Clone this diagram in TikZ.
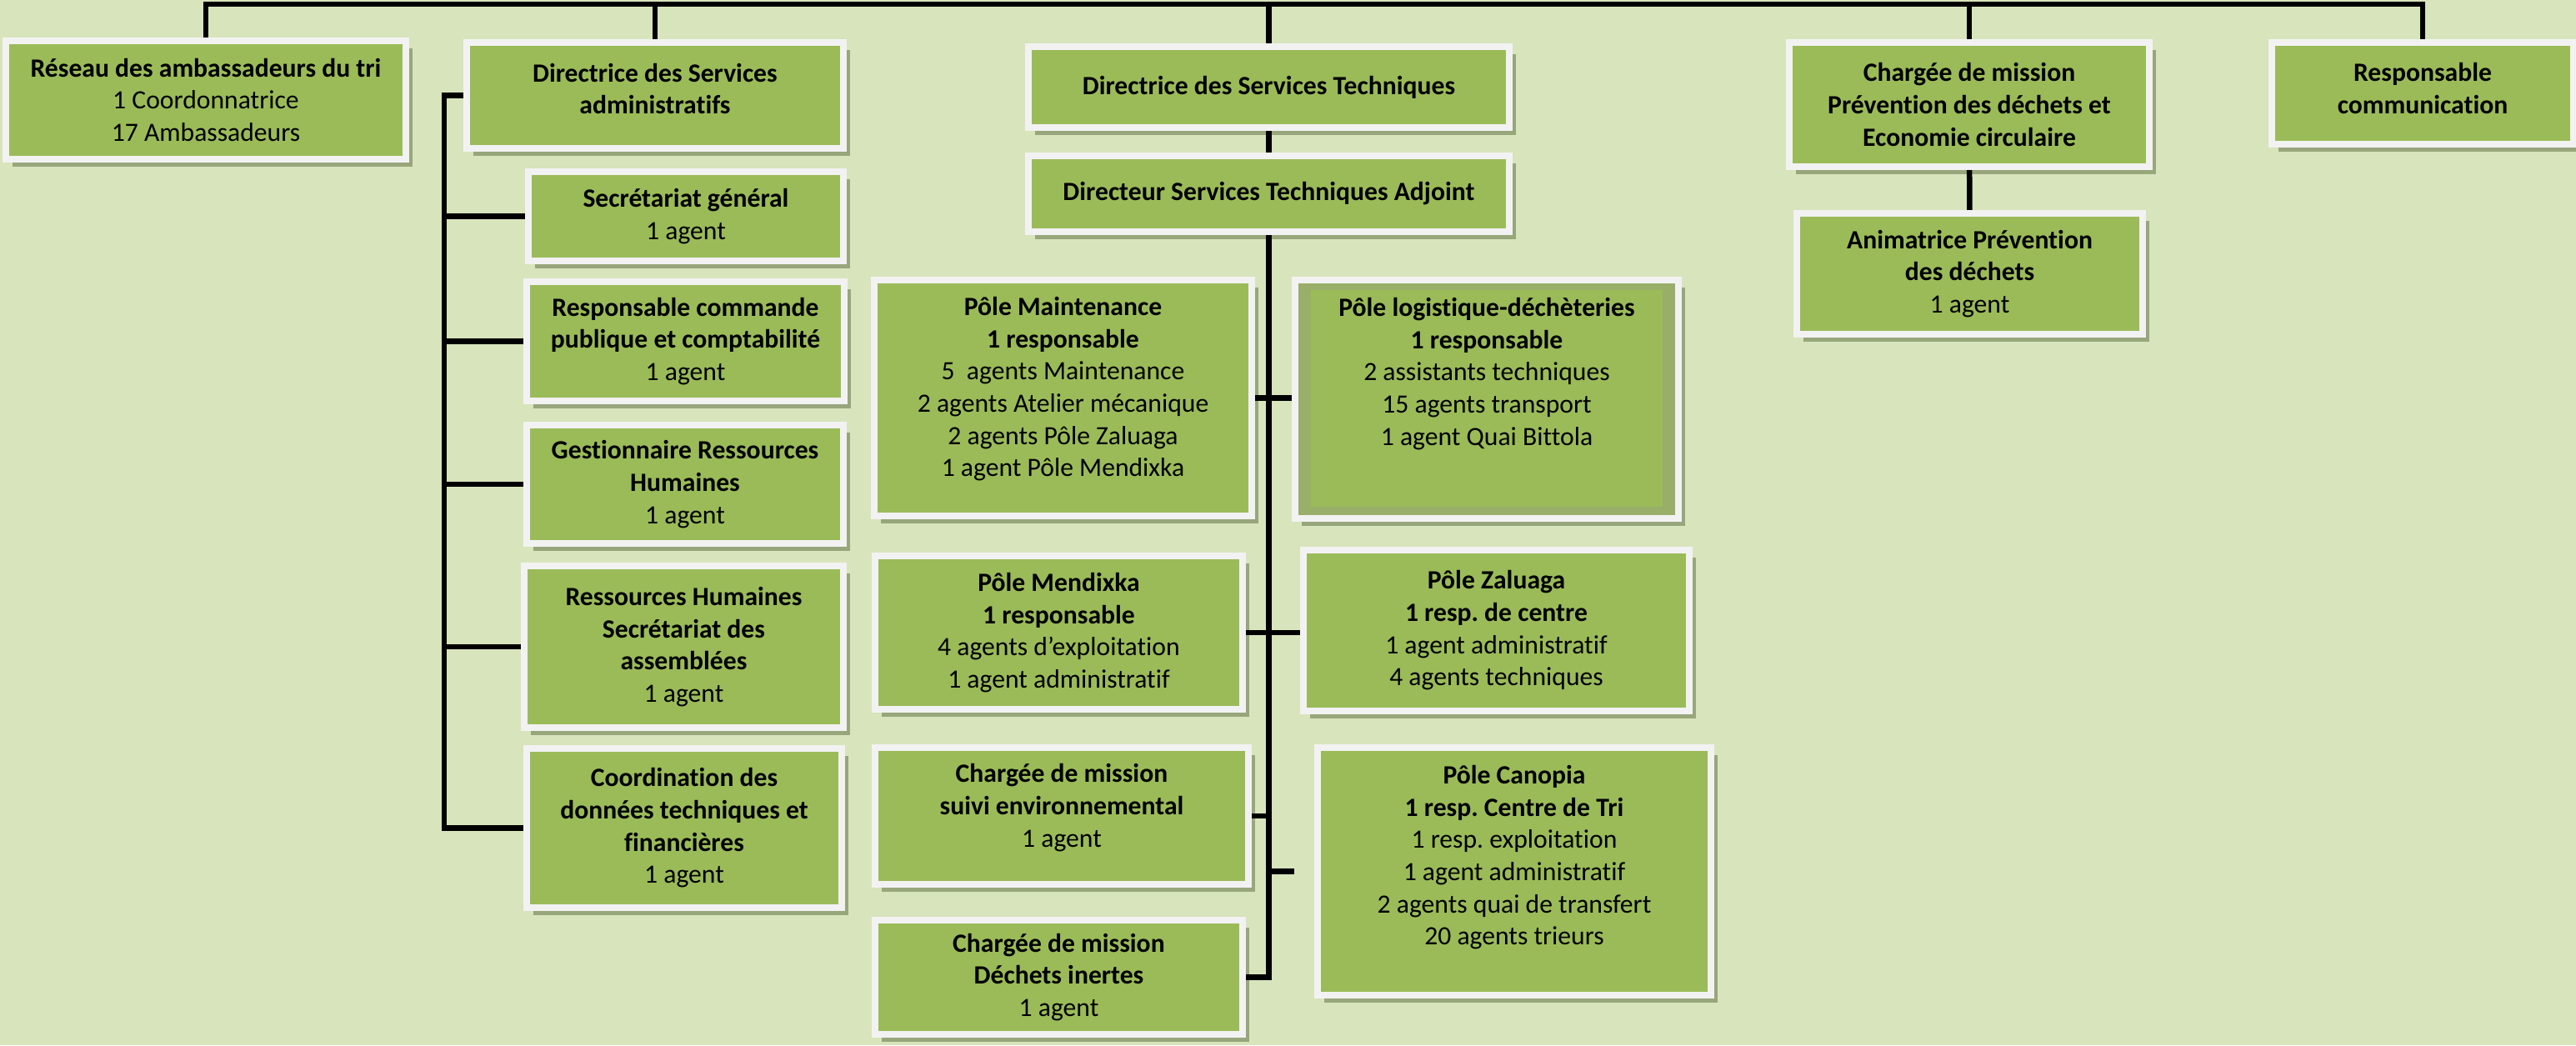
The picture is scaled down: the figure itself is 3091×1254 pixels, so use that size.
\documentclass[tikz,border=0pt]{standalone}
\usepackage{fontspec}
\setmainfont{Carlito}[Ligatures=NoCommon]
\usetikzlibrary{shadows}
\definecolor{bgcol}{HTML}{D8E4BC}
\definecolor{boxgreen}{HTML}{9BBB59}
\definecolor{boxedge}{HTML}{F2F2F2}
\definecolor{shadowcol}{HTML}{98A67B}
\definecolor{bandcol}{HTML}{98AE69}
\frenchspacing
\begin{document}
\begin{tikzpicture}[x=0.01cm, y=-0.01cm,
  box/.style={draw=boxedge, line width=0.08cm, fill=boxgreen, align=center,
    font=\fontsize{9}{11}\selectfont, inner sep=0pt,
    drop shadow={shadow xshift=0.08cm, shadow yshift=-0.09cm, fill=shadowcol, opacity=1}},
  lift/.style={text depth=#1},
  link/.style={line width=0.065cm}]
\useasboundingbox [fill=bgcol] (0,0) rectangle (3091,1254);

% top row
\node [box, minimum width=4.80cm, minimum height=1.42cm] (reseau) at (247,120)
  {\textbf{Réseau des ambassadeurs du tri}\\1 Coordonnatrice\\17 Ambassadeurs};
\node [box, lift=4.6pt, minimum width=4.52cm, minimum height=1.27cm] (dsa) at (786,114.5)
  {\textbf{Directrice des Services}\\\textbf{administratifs}};
\node [box, minimum width=5.77cm, minimum height=0.97cm] (dst) at (1522.5,104.5)
  {\textbf{Directrice des Services Techniques}};
\node [box, minimum width=5.77cm, minimum height=0.91cm] (adj) at (1522.5,232.5)
  {\textbf{Directeur Services Techniques Adjoint}};
\node [box, minimum width=4.32cm, minimum height=1.49cm] (cmp) at (2363,125.5)
  {\textbf{Chargée de mission}\\\textbf{Prévention des déchets et}\\\textbf{Economie circulaire}};
\node [box, lift=3.4pt, minimum width=3.62cm, minimum height=1.22cm] (com) at (2907,112)
  {\textbf{Responsable}\\\textbf{communication}};
\node [box, minimum width=4.15cm, minimum height=1.45cm] (anim) at (2363.5,328.5)
  {\textbf{Animatrice Prévention}\\\textbf{des déchets}\\1 agent};

% services administratifs
\node [box, minimum width=3.78cm, minimum height=1.07cm] (sg) at (823,259.5)
  {\textbf{Secrétariat général}\\1 agent};
\node [box, minimum width=3.81cm, minimum height=1.43cm] (rc) at (822.5,409.5)
  {\textbf{Responsable commande}\\\textbf{publique et comptabilité}\\1 agent};
\node [box, minimum width=3.80cm, minimum height=1.42cm] (grh) at (822,581)
  {\textbf{Gestionnaire Ressources}\\\textbf{Humaines}\\1 agent};
\node [box, minimum width=3.83cm, minimum height=1.94cm] (rhs) at (820.5,776)
  {\textbf{Ressources Humaines}\\\textbf{Secrétariat des}\\\textbf{assemblées}\\1 agent};
\node [box, minimum width=3.78cm, minimum height=1.91cm] (coord) at (821,993.5)
  {\textbf{Coordination des}\\\textbf{données techniques et}\\\textbf{financières}\\1 agent};

% services techniques
\node [box, lift=7.7pt, minimum width=4.53cm, minimum height=2.83cm] (maint) at (1275.5,477.5)
  {\textbf{Pôle Maintenance}\\\textbf{1 responsable}\\5~ agents Maintenance\\2 agents Atelier mécanique\\2 agents Pôle Zaluaga\\1 agent Pôle Mendixka};
\node [box, lift=19pt, fill=bandcol, minimum width=4.60cm, minimum height=2.86cm,
  path picture={\fill [boxgreen] ([shift={(19,12)}]path picture bounding box.north west)
    rectangle ([shift={(-19,-14)}]path picture bounding box.south east);}] (logi) at (1784,479)
  {\textbf{Pôle logistique-déchèteries}\\\textbf{1 responsable}\\2 assistants techniques\\15 agents transport\\1 agent Quai Bittola};
\node [box, minimum width=4.41cm, minimum height=1.84cm] (mend) at (1270.5,759)
  {\textbf{Pôle Mendixka}\\\textbf{1 responsable}\\4 agents d’exploitation\\1 agent administratif};
\node [box, minimum width=4.63cm, minimum height=1.93cm] (zal) at (1795.5,756.5)
  {\textbf{Pôle Zaluaga}\\\textbf{1 resp. de centre}\\1 agent administratif\\4 agents techniques};
\node [box, lift=7.1pt, minimum width=4.48cm, minimum height=1.64cm] (suivi) at (1274,979)
  {\textbf{Chargée de mission}\\\textbf{suivi environnemental}\\1 agent};
\node [box, lift=11pt, minimum width=4.72cm, minimum height=2.97cm] (cano) at (1817,1045.5)
  {\textbf{Pôle Canopia}\\\textbf{1 resp. Centre de Tri}\\1 resp. exploitation\\1 agent administratif\\2 agents quai de transfert\\20 agents trieurs};
\node [box, minimum width=4.41cm, minimum height=1.37cm] (inert) at (1270.5,1172.5)
  {\textbf{Chargée de mission}\\\textbf{Déchets inertes}\\1 agent};

% liaisons
\coordinate (top) at (1523,5);
\coordinate (admx) at (533,0);
\draw [link] (reseau.north) |- (top) -| (com.north);
\foreach \n in {dsa,dst,cmp}
  \draw [link] (\n.north) -- (\n.north |- top);
\draw [link] (cmp) -- (anim);
\draw [link] (dst) -- (adj);

\draw [link] (dsa.west) -- (dsa.west -| admx) |- (coord.west);
\foreach \n in {sg,rc,grh,rhs}
  \draw [link] (\n.west) -- (\n.west -| admx);

\draw [link] (adj.south) |- (inert.east);
\draw [link] (maint.east) -- (maint.east -| logi.west);
\draw [link] (mend.east) -- (mend.east -| zal.west);
\draw [link] (suivi.east) -- (suivi.east -| adj.south);
\draw [link, shorten >=0.24cm] (cano.west -| adj.south) -- (cano.west);
\end{tikzpicture}
\end{document}
